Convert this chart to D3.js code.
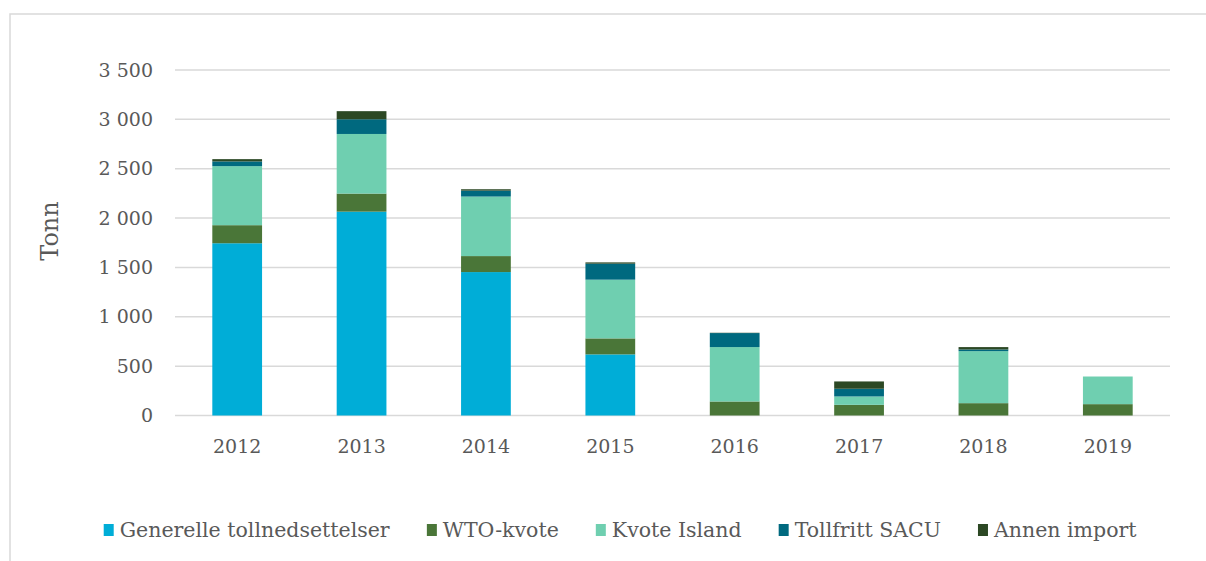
<!DOCTYPE html>
<meta charset="utf-8">
<script src="https://d3js.org/d3.v7.min.js"></script>
<style>
  body { margin: 0; background: #fff; }
  text { font-family: "DejaVu Serif", serif; fill: #595959; }
</style>
<div id="my_dataviz"></div>
<script>

// data (tonn)
var years = ["2012", "2013", "2014", "2015", "2016", "2017", "2018", "2019"];
var seriesNames = ["Generelle tollnedsettelser", "WTO-kvote", "Kvote Island", "Tollfritt SACU", "Annen import"];
var generelle = [1745, 2065, 1453, 619, 0, 0, 0, 0];
var wto       = [183, 183, 162, 162, 142, 108, 125, 115];
var island    = [598, 604, 603, 595, 551, 85, 527, 280];
var sacu      = [48, 149, 60, 162, 142, 78, 17, 0];
var annen     = [23, 82, 14, 13, 3, 74, 24, 0];
var yTicks = [0, 500, 1000, 1500, 2000, 2500, 3000, 3500];
var colors = ["#00ADD7", "#4A7638", "#6FCFB0", "#00697F", "#2C4824"];

var W = 1206, H = 561;
var plot = {left: 175, right: 1170, top: 70, bottom: 415.5};

var svg = d3.select("#my_dataviz")
  .append("svg")
    .attr("width", W)
    .attr("height", H);

// outer frame
svg.append("rect")
  .attr("x", 10).attr("y", 14)
  .attr("width", W).attr("height", H)
  .attr("fill", "none")
  .attr("stroke", "#d9d9d9")
  .attr("stroke-width", 1.5);

// build table for stacking
var table = years.map(function(y, i) {
  return {year: y, s0: generelle[i], s1: wto[i], s2: island[i], s3: sacu[i], s4: annen[i]};
});
var keys = ["s0", "s1", "s2", "s3", "s4"];
var stacked = d3.stack().keys(keys)(table);

// X axis
var x = d3.scaleBand()
  .domain(years)
  .range([plot.left, plot.right]);
var barW = x.bandwidth() * 0.4;

// Y axis
var y = d3.scaleLinear()
  .domain([0, 3500])
  .range([plot.bottom, plot.top]);

// gridlines
svg.append("g")
  .selectAll("line")
  .data(yTicks)
  .enter()
  .append("line")
    .attr("x1", plot.left)
    .attr("x2", plot.right)
    .attr("y1", function(d) { return y(d); })
    .attr("y2", function(d) { return y(d); })
    .attr("stroke", "#d9d9d9")
    .attr("stroke-width", 1.5);

// y tick labels
svg.append("g")
  .selectAll("text")
  .data(yTicks)
  .enter()
  .append("text")
    .attr("x", 153)
    .attr("y", function(d) { return y(d); })
    .attr("dy", "0.35em")
    .attr("text-anchor", "end")
    .style("font-size", "19px")
    .text(function(d) { return d3.format(",")(d).replace(",", " "); });

// y title
svg.append("text")
  .attr("transform", "translate(58,231)rotate(-90)")
  .attr("text-anchor", "middle")
  .style("font-size", "24px")
  .text("Tonn");

// bars
svg.append("g")
  .selectAll("g")
  .data(stacked)
  .enter()
  .append("g")
    .attr("fill", function(d, i) { return colors[i]; })
  .selectAll("rect")
  .data(function(d) { return d; })
  .enter()
  .append("rect")
    .attr("x", function(d) { return x(d.data.year) + (x.bandwidth() - barW) / 2; })
    .attr("y", function(d) { return y(d[1]); })
    .attr("width", barW)
    .attr("height", function(d) { return y(d[0]) - y(d[1]); });

// x labels
svg.append("g")
  .selectAll("text")
  .data(years)
  .enter()
  .append("text")
    .attr("x", function(d) { return x(d) + x.bandwidth() / 2; })
    .attr("y", 453)
    .attr("text-anchor", "middle")
    .style("font-size", "19px")
    .text(function(d) { return d; });

// legend
var legend = svg.append("g");
var items = legend.selectAll("g")
  .data(seriesNames)
  .enter()
  .append("g");
items.append("rect")
  .attr("width", 10).attr("height", 12)
  .attr("y", -13)
  .attr("fill", function(d, i) { return colors[i]; });
items.append("text")
  .attr("x", 16)
  .style("font-size", "20.5px")
  .text(function(d) { return d; });

var gap = 37, xpos = 0;
items.each(function() {
  var w = this.getBBox().width;
  d3.select(this).attr("transform", "translate(" + xpos + ",0)");
  xpos += w + gap;
});
var total = xpos - gap;
legend.attr("transform", "translate(" + (620.5 - total / 2) + ",537)");

</script>
